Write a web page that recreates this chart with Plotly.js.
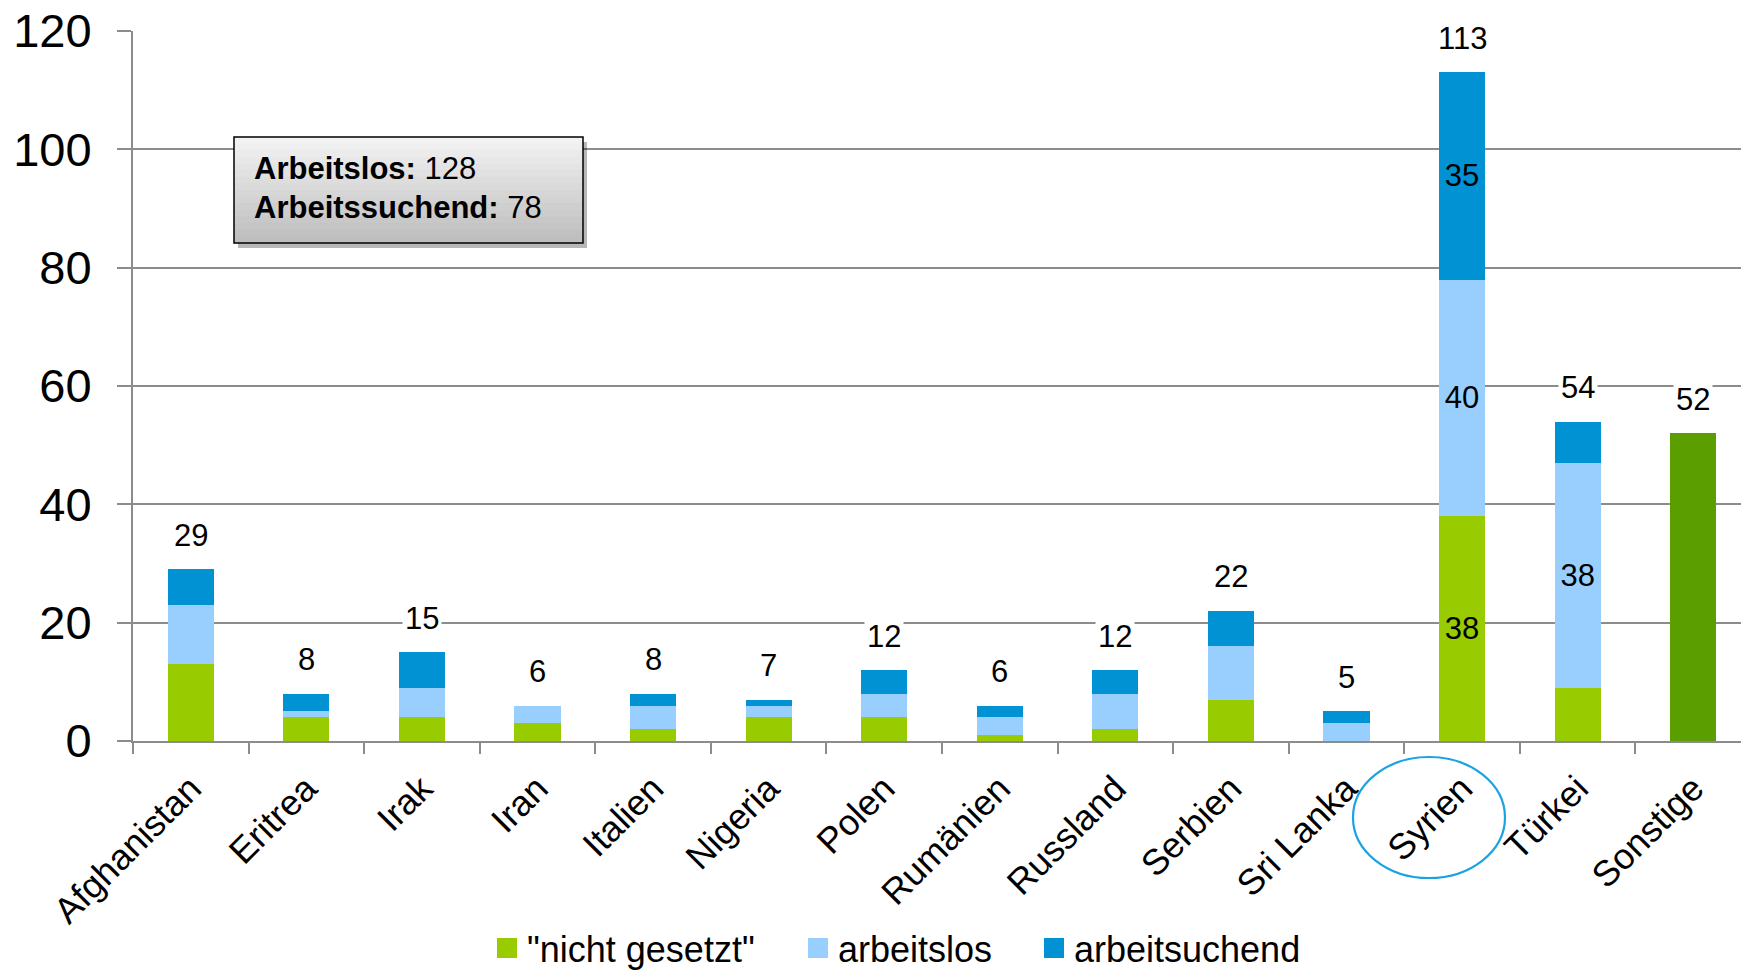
<!DOCTYPE html>
<html><head><meta charset="utf-8">
<script src="https://cdn.plot.ly/plotly-3.0.1.min.js"></script>
<style>html,body{margin:0;padding:0;background:#fff}#chart{width:1741px;height:970px}</style>
</head><body><div id="chart"></div>
<script>
// ---- data ----
const categories = ['Afghanistan','Eritrea','Irak','Iran','Italien','Nigeria','Polen','Rumänien','Russland','Serbien','Sri Lanka','Syrien','Türkei','Sonstige'];
const nichtGesetzt  = [13, 4, 4, 3, 2, 4, 4, 1, 2, 7, 0, 38,  9, null];
const arbeitslos    = [10, 1, 5, 3, 4, 2, 4, 3, 6, 9, 3, 40, 38, null];
const arbeitsuchend = [ 6, 3, 6, 0, 2, 1, 4, 2, 4, 6, 2, 35,  7, null];
const sonstige      = [null,null,null,null,null,null,null,null,null,null,null,null,null,52];
const seriesNames = ['"nicht gesetzt"', 'arbeitslos', 'arbeitsuchend'];
const infoLabels = ['Arbeitslos:', 'Arbeitssuchend:'];
const infoValues = [128, 78];
const yTickVals = [0, 20, 40, 60, 80, 100, 120];

// ---- styling / geometry ----
const W = 1741, H = 970;
const M = {l: 133, r: 0, t: 31, b: 229, autoexpand: false};
const PW = W - M.l - M.r, PH = H - M.t - M.b;
const CAT_W = 115.57;
const px = x => (x - M.l) / PW;
const py = y => (H - M.b - y) / PH;
const colors = ['#99CC00', '#99CFFF', '#0092D2'];
const sonstigeColor = '#5A9E00';
const FONT = 'Liberation Sans, Arial, sans-serif';
const GRID = '#8c8c8c';

const inside = v => v.map(x => (x !== null && x >= 30) ? String(x) : '');
const seriesVals = [nichtGesetzt, arbeitslos, arbeitsuchend];

const traces = seriesVals.map((vals, k) => ({
  type: 'bar', x: categories, y: vals, name: seriesNames[k],
  marker: {color: colors[k], line: {width: 0}},
  text: inside(vals), textposition: 'inside', insidetextanchor: 'middle',
  textfont: {size: 31, color: '#000', family: FONT},
  showlegend: false, hoverinfo: 'x+y+name'
}));
traces.push({
  type: 'bar', x: categories, y: sonstige, name: 'Sonstige',
  marker: {color: sonstigeColor, line: {width: 0}}, showlegend: false, hoverinfo: 'x+y'
});
// legend entries
const legendIds = ['legend', 'legend2', 'legend3'];
seriesNames.forEach((n, k) => {
  traces.push({
    type: 'scatter', mode: 'markers', x: [null], y: [null], name: n,
    marker: {symbol: 'square', size: 20, color: colors[k], line: {color: colors[k], width: 4}},
    legend: legendIds[k], showlegend: true, hoverinfo: 'skip'
  });
});

const totals = categories.map((c, i) =>
  [nichtGesetzt[i], arbeitslos[i], arbeitsuchend[i], sonstige[i]].reduce((a, b) => a + (b || 0), 0));

const annotations = categories.map((c, i) => ({
  x: c, y: totals[i], xref: 'x', yref: 'y', yshift: 34,
  text: String(totals[i]), showarrow: false, bgcolor: '#ffffff', borderpad: 2,
  font: {size: 31, color: '#000', family: FONT}
}));
const infoLineY = [169, 207];
infoLabels.forEach((l, i) => annotations.push({
  xref: 'paper', yref: 'paper', x: px(252), y: py(infoLineY[i]), xanchor: 'left', yanchor: 'middle',
  align: 'left', showarrow: false,
  text: '<b>' + l + '</b> ' + infoValues[i],
  font: {size: 31, color: '#000', family: FONT}
}));

// info box: shadow + gradient + border
const shapes = [];
const bx0 = 234, bx1 = 583, by0 = 137, by1 = 243;
shapes.push({type: 'rect', xref: 'paper', yref: 'paper', layer: 'above',
  x0: px(bx0 + 4), x1: px(bx1 + 4), y0: py(by0 + 5), y1: py(by1 + 5),
  fillcolor: 'rgba(0,0,0,0.28)', line: {width: 0}});
const STRIPS = 16;
for (let s = 0; s < STRIPS; s++) {
  const t = s / (STRIPS - 1);
  const g = Math.round(242 - t * (242 - 190));
  shapes.push({type: 'rect', xref: 'paper', yref: 'paper', layer: 'above',
    x0: px(bx0), x1: px(bx1),
    y0: py(by0 + (by1 - by0) * s / STRIPS), y1: py(by0 + (by1 - by0) * (s + 1) / STRIPS + 0.6),
    fillcolor: `rgb(${g},${g},${g})`, line: {width: 0}});
}
shapes.push({type: 'rect', xref: 'paper', yref: 'paper', layer: 'above',
  x0: px(bx0), x1: px(bx1), y0: py(by0), y1: py(by1),
  fillcolor: 'rgba(0,0,0,0)', line: {color: '#000', width: 1.5}});
// highlight ellipse around Syrien label
shapes.push({type: 'circle', xref: 'paper', yref: 'paper', layer: 'above',
  x0: px(1353), x1: px(1505), y0: py(757), y1: py(878),
  line: {color: '#1AA3E3', width: 2.2}, fillcolor: 'rgba(0,0,0,0)'});

const legendBase = {orientation: 'h', xanchor: 'left', yanchor: 'middle', y: py(948),
  font: {size: 36, color: '#000', family: FONT}, bgcolor: 'rgba(0,0,0,0)', borderwidth: 0,
  itemsizing: 'trace'};
const layout = {
  width: W, height: H, margin: M, paper_bgcolor: '#fff', plot_bgcolor: '#fff',
  font: {family: FONT, color: '#000'},
  barmode: 'stack', bargap: 0.6,
  xaxis: {type: 'category', range: [-0.5, -0.5 + PW / CAT_W], tickson: 'boundaries',
    ticks: 'outside', ticklen: 11, tickwidth: 2, tickcolor: GRID,
    showline: true, linecolor: GRID, linewidth: 2, showgrid: false, automargin: false,
    ticklabelstandoff: 10,
    tickangle: -45, tickfont: {size: 36, color: '#000', family: FONT}, fixedrange: true},
  yaxis: {range: [0, 120], tickvals: yTickVals, ticks: 'outside', ticklen: 14, tickwidth: 2,
    tickcolor: GRID, showline: true, linecolor: GRID, linewidth: 2, automargin: false,
    showgrid: true, gridcolor: GRID, gridwidth: 2, zeroline: false,
    ticklabelstandoff: 16, tickfont: {size: 47, color: '#000', family: FONT}, fixedrange: true},
  legend: Object.assign({}, legendBase, {x: px(487)}),
  legend2: Object.assign({}, legendBase, {x: px(798)}),
  legend3: Object.assign({}, legendBase, {x: px(1034)}),
  annotations: annotations, shapes: shapes
};
Plotly.newPlot('chart', traces, layout, {displayModeBar: false, responsive: false});
</script></body></html>
